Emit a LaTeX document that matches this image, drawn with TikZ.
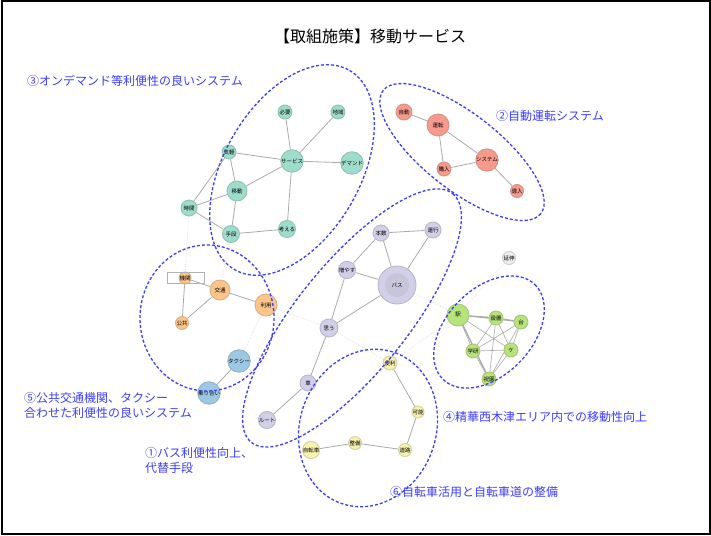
\documentclass[tikz,border=0pt]{standalone}
\usepackage{fontspec}
\setmainfont{Noto Sans CJK JP}
\usetikzlibrary{backgrounds}
\definecolor{lblue}{HTML}{3C3CFF}
\definecolor{edgec}{HTML}{AAAAAA}
\definecolor{ltedge}{HTML}{DCDCDC}
\definecolor{cteal}{HTML}{9EDCCB}
\definecolor{cred}{HTML}{F79A8C}
\definecolor{corange}{HTML}{FBC58A}
\definecolor{cblue}{HTML}{9CC8E4}
\definecolor{cpurple}{HTML}{D2CFE8}
\definecolor{cgreen}{HTML}{B6E37A}
\definecolor{cyellow}{HTML}{F7F2B0}
\definecolor{cgrey}{HTML}{EEEEEE}
\tikzset{
  nd/.style 2 args={circle, inner sep=0pt, minimum size=#1, fill=#2, draw=#2!70!gray, line width=0.9pt, font=\fontsize{5.5}{5.5}\selectfont},
  ed/.style={draw=edgec, line width=0.8pt},
  led/.style={draw=ltedge, line width=0.6pt, densely dotted},
  grp/.style={draw=lblue, line width=1.3pt, dash pattern=on 3pt off 2pt},
  lab/.style={text=lblue, font=\fontsize{12}{15}\selectfont, anchor=west, inner sep=0pt, align=left}
}
\begin{document}
\begin{tikzpicture}[x=1pt,y=-1pt]
\useasboundingbox (0,0) rectangle (711,535);
\draw[line width=2pt] (1.5,1.5) rectangle (709.5,533.5);
\node[font=\fontsize{16}{16}\selectfont] (title) at (370,36) {【取組施策】移動サービス};

% teal
\node[nd={14pt}{cteal}] (hitsuyo) at (285,112) {必要};
\node[nd={14pt}{cteal}] (chiiki) at (338,112) {地域};
\node[nd={14pt}{cteal}] (kigaru) at (229,152) {気軽};
\node[nd={16pt}{cteal}] (service) at (292,161) {サービス};
\node[nd={16pt}{cteal}] (demand) at (352,163) {デマンド};
\node[nd={20pt}{cteal}] (ido) at (237,191) {移動};
\node[nd={16pt}{cteal}] (jikan) at (189,208) {時間};
\node[nd={17pt}{cteal}] (shudan) at (231,234) {手段};
\node[nd={14pt}{cteal}] (kangaeru) at (287,229) {考える};
% red
\node[nd={16pt}{cred}] (jido) at (404,112) {自動};
\node[nd={22pt}{cred}] (unten) at (438,125) {運転};
\node[nd={14pt}{cred}] (konyu) at (444,169) {購入};
\node[nd={14pt}{cred}] (system) at (487,160) {システム};
\node[nd={13pt}{cred}] (donyu) at (517,191) {導入};
% orange / blue
\node[nd={12pt}{corange}] (kikan) at (185,278) {機関};
\node[nd={20pt}{corange}] (kotsu) at (220,290) {交通};
\node[nd={22pt}{corange}] (riyo) at (266,305) {利用};
\node[nd={13pt}{corange}] (kokyo) at (182,323) {公共};
\node[nd={20pt}{cblue}] (taxi) at (239,361) {タクシー};
\node[nd={11pt}{cblue}] (noriai) at (209,393) {乗り合い};
% purple
\node[nd={16pt}{cpurple}] (honsu) at (381,233) {本数};
\node[nd={16pt}{cpurple}] (unko) at (433,230) {運行};
\node[nd={15pt}{cpurple}] (fuyasu) at (347,270) {増やす};
\node[nd={38pt}{cpurple}] (bus) at (397,285) {};
\node[circle, inner sep=0pt, minimum size=24pt, fill=cpurple!88!gray, font=\fontsize{5.5}{5.5}\selectfont] (busin) at (bus) {バス};
\node[nd={18pt}{cpurple}] (omou) at (329,328) {思う};
\node[nd={16pt}{cpurple}] (kuruma) at (308,383) {車};
\node[nd={12pt}{cpurple}] (route) at (267,420) {ルート};
% green
\node[nd={13pt}{cgrey}] (enshin) at (509,258) {延伸};
\node[nd={22pt}{cgreen}] (eki) at (458,315) {駅};
\node[nd={14pt}{cgreen}] (secchi) at (496,318) {設置};
\node[nd={14pt}{cgreen}] (dai) at (521,322) {台};
\node[nd={14pt}{cgreen}] (gaken) at (473,351) {学研};
\node[nd={14pt}{cgreen}] (ke) at (511,350) {ケ};
\node[nd={14pt}{cgreen}] (hosono) at (489,379) {祝園};
% yellow
\node[nd={14pt}{cyellow}] (benri) at (390,363) {便利};
\node[nd={12pt}{cyellow}] (kano) at (418,412) {可能};
\node[nd={13pt}{cyellow}] (doro) at (405,450) {道路};
\node[nd={13pt}{cyellow}] (seibi) at (355,443) {整備};
\node[nd={14pt}{cyellow}] (jitensha) at (311,450) {自転車};

\draw[draw=gray!60, line width=0.8pt] (167,272) rectangle (204,283);

\begin{scope}[on background layer]
\path[ed] (hitsuyo)--(service) (chiiki)--(service) (service)--(demand) (kigaru)--(service)
  (kigaru)--(ido) (kigaru)--(jikan) (ido)--(service) (ido)--(jikan) (ido)--(shudan)
  (jikan)--(shudan) (shudan)--(kangaeru) (service)--(kangaeru);
\path[ed] (jido)--(unten) (unten)--(konyu) (unten)--(system) (konyu)--(system) (system)--(donyu);
\path[ed] (kikan)--(kotsu) (kikan)--(kokyo) (kotsu)--(kokyo) (kotsu)--(riyo) (taxi)--(noriai);
\path[ed] (honsu)--(unko) (honsu)--(fuyasu) (honsu)--(bus) (unko)--(bus) (fuyasu)--(bus)
  (fuyasu)--(omou) (bus)--(omou) (omou)--(kuruma) (kuruma)--(route);
\path[ed, line width=0.6pt] (eki)--(secchi) (eki)--(dai) (eki)--(gaken) (eki)--(ke) (eki)--(hosono)
  (secchi)--(dai) (secchi)--(gaken) (secchi)--(ke) (secchi)--(hosono)
  (dai)--(gaken) (dai)--(ke) (dai)--(hosono)
  (gaken)--(ke) (gaken)--(hosono) (ke)--(hosono);
\path[ed, line width=1.2pt] (eki)--(secchi) (secchi)--(dai) (eki)--(hosono);
\path[ed] (benri)--(kano) (kano)--(doro) (doro)--(seibi) (seibi)--(jitensha);
\path[led] (jikan)--(kikan) (shudan)--(kotsu) (riyo)--(taxi) (riyo)--(omou)
  (bus)--(eki) (omou)--(benri) (benri)--(eki) (eki)--(enshin);
\end{scope}

% groups
\draw[grp] (292,170) ellipse [x radius=115, y radius=68, rotate=60];
\draw[grp] (462,152) ellipse [x radius=100, y radius=38, rotate=-38];
\draw[grp] (207,318) ellipse [x radius=67, y radius=73];
\draw[grp] (352,318) ellipse [x radius=160, y radius=55, rotate=51];
\draw[grp] (489,332) ellipse [x radius=66, y radius=43, rotate=46];
\draw[grp] (368,428) ellipse [x radius=80, y radius=68, rotate=70];

% labels
\node[lab] (l3) at (27,81) {③オンデマンド等利便性の良いシステム};
\node[lab] (l2) at (496,116) {②自動運転システム};
\node[lab] (l5) at (24,405) {⑤公共交通機関、タクシー\\合わせた利便性の良いシステム};
\node[lab] (l4) at (443,417) {④精華西木津エリア内での移動性向上};
\node[lab] (l1) at (145,460) {①バス利便性向上、\\代替手段};
\node[lab] (l6) at (390,492) {⑥自転車活用と自転車道の整備};
\end{tikzpicture}
\end{document}
